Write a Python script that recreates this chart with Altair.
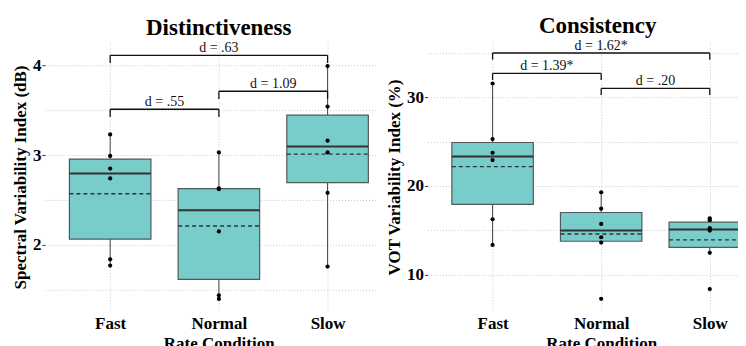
import json
import altair as alt
import numpy as np
import pandas as pd

# ---------------- data ----------------
categories = ["Fast", "Normal", "Slow"]
positions = [1, 2, 3]

dist_fast = [3.23, 2.99, 2.85, 2.74, 1.84, 1.77]
dist_normal = [3.03, 2.63, 2.62, 2.15, 1.44, 1.40]
dist_slow = [3.99, 3.54, 3.16, 3.03, 2.58, 1.76]

cons_fast = [31.56, 25.29, 23.75, 22.93, 16.25, 13.36]
cons_normal = [19.29, 17.44, 15.72, 14.22, 13.62, 7.27]
cons_slow = [16.36, 16.14, 15.24, 14.97, 12.46, 8.37]

dist_bracket_from = ["Fast", "Normal", "Fast"]
dist_bracket_to = ["Normal", "Slow", "Slow"]
dist_bracket_y = [3.51, 3.71, 4.11]
dist_bracket_labels = ["d = .55", "d = 1.09", "d = .63"]

cons_bracket_from = ["Fast", "Normal", "Fast"]
cons_bracket_to = ["Normal", "Slow", "Slow"]
cons_bracket_y = [32.7, 31.0, 35.0]
cons_bracket_labels = ["d = 1.39*", "d = .20", "d = 1.62*"]

dist_y_ticks = [1.5, 2, 2.5, 3, 3.5, 4]
cons_y_ticks = [10, 15, 20, 25, 30, 35]

# ---------------- style ----------------
FONT = "Liberation Serif"
BOX_HALF = 0.375
FILL = "#78CDCB"
GRID = "#c9c9c9"


def panel(title, ytitle, groups, ydomain, yvalues, label_step,
          b_from, b_to, b_y, b_labels, drop, xdomain, width, height,
          title_dx, xtitle_x):
    pos_of = dict(zip(categories, positions))
    rows, pts = [], []
    for cat, vals in zip(categories, groups):
        a = np.asarray(vals, dtype=float)
        q1, med, q3 = np.percentile(a, [25, 50, 75])
        iqr = q3 - q1
        lo = a[a >= q1 - 1.5 * iqr].min()
        hi = a[a <= q3 + 1.5 * iqr].max()
        p = pos_of[cat]
        rows.append(dict(cat=cat, pos=p, xl=p - BOX_HALF, xr=p + BOX_HALF,
                         q1=q1, med=med, q3=q3, lo=lo, hi=hi, mean=a.mean()))
        for v in a:
            pts.append(dict(cat=cat, pos=p, value=v))
    st = pd.DataFrame(rows)
    pt = pd.DataFrame(pts)
    br = pd.DataFrame(dict(xa=[pos_of[c] for c in b_from],
                           xb=[pos_of[c] for c in b_to],
                           y=b_y, label=b_labels))
    br["xm"] = (br.xa + br.xb) / 2
    br["ylow"] = br.y - drop

    xaxis = alt.Axis(
        values=positions,
        labelExpr=f"{json.dumps(categories)}[datum.value - 1]",
        title="Rate Condition", grid=True, gridDash=[1, 2], gridColor=GRID,
        gridWidth=1, ticks=False, tickSize=0, domain=False,
        labelFont=FONT, labelFontSize=17, labelFontWeight="bold",
        labelColor="black", labelPadding=4, labelFlush=False,
        labelOverlap=False, titleFont=FONT, titleFontSize=17,
        titleFontWeight="bold", titleColor="black", titlePadding=4,
        titleX=xtitle_x,
    )
    yaxis = alt.Axis(
        values=yvalues,
        labelExpr=(f"datum.value % {label_step} === 0 ? "
                   "format(datum.value, 'd') : ''"),
        title=ytitle, grid=True, gridDash=[1, 2], gridColor=GRID,
        gridWidth=1, domain=False, tickSize=3,
        tickColor={"condition": {"test": f"datum.value % {label_step} === 0",
                                 "value": "#333333"},
                   "value": "transparent"},
        labelFont=FONT, labelFontSize=17, labelFontWeight="bold",
        labelColor="black", labelPadding=1, titleFont=FONT,
        titleFontSize=17, titleFontWeight="bold", titleColor="black",
        titlePadding=3,
    )
    xs = alt.Scale(domain=xdomain, nice=False, zero=False)
    ys = alt.Scale(domain=ydomain, nice=False, zero=False)

    def X(f):
        return alt.X(f, type="quantitative", scale=xs, axis=xaxis)

    def Y(f):
        return alt.Y(f, type="quantitative", scale=ys, axis=yaxis)

    whisk = alt.Chart(st).mark_rule(color="#444444", strokeWidth=1,
                                    clip=True).encode(
        x=X("pos"), y=Y("lo"), y2="hi")
    box = alt.Chart(st).mark_rect(fill=FILL, stroke="#505a5a",
                                  strokeWidth=1.2, clip=True).encode(
        x=X("xl"), x2="xr", y=Y("q1"), y2="q3")
    med = alt.Chart(st).mark_rule(color="#333333", strokeWidth=2,
                                  clip=True).encode(
        x=X("xl"), x2="xr", y=Y("med"))
    mean = alt.Chart(st).mark_rule(color="#333333", strokeWidth=1.4,
                                   strokeDash=[4, 3], clip=True).encode(
        x=X("xl"), x2="xr", y=Y("mean"))
    dots = alt.Chart(pt).mark_circle(size=18, color="black",
                                     opacity=1).encode(
        x=X("pos"), y=Y("value"))
    bh = alt.Chart(br).mark_rule(color="#111111", strokeWidth=1.3).encode(
        x=X("xa"), x2="xb", y=Y("y"))
    bl = alt.Chart(br).mark_rule(color="#111111", strokeWidth=1.3).encode(
        x=X("xa"), y=Y("y"), y2="ylow")
    brr = alt.Chart(br).mark_rule(color="#111111", strokeWidth=1.3).encode(
        x=X("xb"), y=Y("y"), y2="ylow")
    txt = alt.Chart(br).mark_text(font=FONT, fontSize=14, baseline="alphabetic",
                                  dy=-3, color="#111111").encode(
        x=X("xm"), y=Y("y"), text="label:N")

    return alt.layer(whisk, box, med, mean, dots, bh, bl, brr, txt).properties(
        width=width, height=height,
        title=alt.TitleParams(text=title, font=FONT, fontSize=23,
                              fontWeight="bold", color="black",
                              anchor="middle", dx=title_dx, offset=1),
    )


left = panel("Distinctiveness", "Spectral Variability Index (dB)",
             [dist_fast, dist_normal, dist_slow], [1.256, 4.256],
             dist_y_ticks, 1, dist_bracket_from, dist_bracket_to,
             dist_bracket_y, dist_bracket_labels, 0.085,
             [0.4, 3.45], 332, 270, 8, 174)

right = panel("Consistency", "VOT Variability Index (%)",
              [cons_fast, cons_normal, cons_slow], [5.81, 36.22],
              cons_y_ticks, 10, cons_bracket_from, cons_bracket_to,
              cons_bracket_y, cons_bracket_labels, 0.75,
              [0.4, 3.26], 311, 270, 15, 174)

chart = alt.hconcat(left, right, spacing=9).properties(
    padding={"left": 3, "top": 6, "right": 0, "bottom": 0},
    background="white",
).configure_view(stroke=None)

chart.save("out.html", embed_options={"renderer": "svg", "actions": False})
